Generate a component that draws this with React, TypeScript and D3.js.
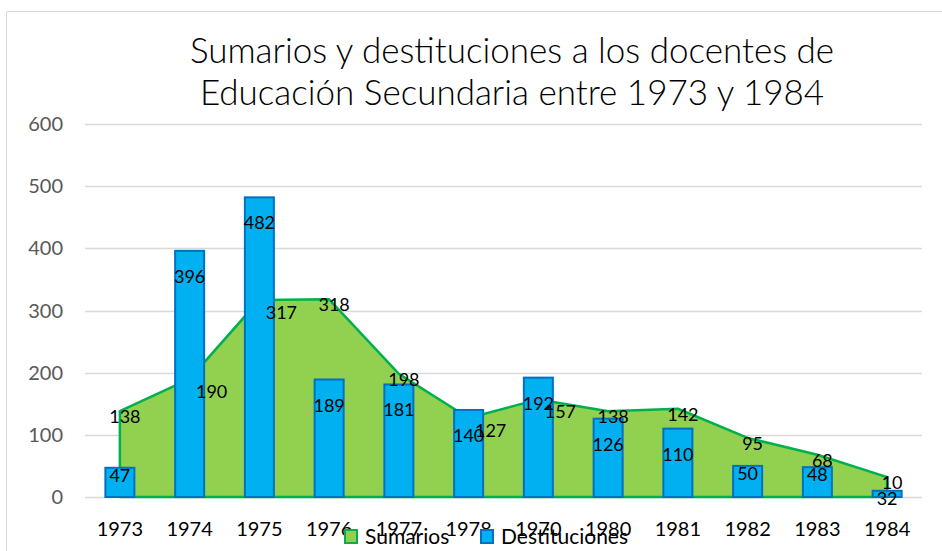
import React from 'react';
import * as d3 from 'd3';

const years = ['1973', '1974', '1975', '1976', '1977', '1978', '1970', '1980', '1981', '1982', '1983', '1984'];
const sumarios = [138, 190, 317, 318, 198, 127, 157, 138, 142, 95, 68, 32];
const destituciones = [47, 396, 482, 189, 181, 140, 192, 126, 110, 50, 48, 10];
// the labels as printed in the original (1984 labels are swapped there)
const sumariosLabels = ['138', '190', '317', '318', '198', '127', '157', '138', '142', '95', '68', '10'];
const destitucionesLabels = ['47', '396', '482', '189', '181', '140', '192', '126', '110', '50', '48', '32'];
const yTicks = [0, 100, 200, 300, 400, 500, 600];
const titleLines = ['Sumarios y destituciones a los docentes de', 'Educación Secundaria entre 1973 y 1984'];

const W = 942;
const H = 551;
const font = 'Lato, "Open Sans", sans-serif';

const plotChart = (ref: React.RefObject<SVGSVGElement | null>) => {
    const svg = d3.select(ref.current);
    svg.selectAll('*').remove();

    const x = d3.scaleBand<string>().domain(years).range([85, 922]);
    const y = d3.scaleLinear().domain([0, 600]).range([497, 124]);
    const cx = (i: number) => (x(years[i]) as number) + x.bandwidth() / 2;

    // chart frame
    svg.append('path')
        .attr('d', `M6.5,${H} V11.5 H${W}`)
        .attr('fill', 'none')
        .attr('stroke', '#d9d9d9')
        .attr('stroke-width', 1);

    // gridlines
    svg.append('g').selectAll('line')
        .data(yTicks)
        .enter().append('line')
        .attr('x1', 85).attr('x2', 922)
        .attr('y1', d => Math.round(y(d)) + 0.5)
        .attr('y2', d => Math.round(y(d)) + 0.5)
        .attr('stroke', '#d9d9d9')
        .attr('stroke-width', 1.5);

    // y tick labels
    svg.append('g').selectAll('text')
        .data(yTicks)
        .enter().append('text')
        .attr('x', 63)
        .attr('y', d => y(d) + 7)
        .attr('text-anchor', 'end')
        .attr('font-family', font)
        .attr('font-size', 20)
        .attr('fill', '#595959')
        .text(d => d);

    // Sumarios area
    const area = d3.area<number>()
        .x((d, i) => cx(i))
        .y0(y(0))
        .y1(d => y(d));

    svg.append('path')
        .datum(sumarios)
        .attr('d', area)
        .attr('fill', '#92d050')
        .attr('stroke', '#00b050')
        .attr('stroke-width', 2.5)
        .attr('stroke-linejoin', 'round');

    // Destituciones bars
    const barW = 29;
    svg.append('g').selectAll('rect')
        .data(destituciones)
        .enter().append('rect')
        .attr('x', (d, i) => cx(i) - barW / 2)
        .attr('y', d => y(d))
        .attr('width', barW)
        .attr('height', d => y(0) - y(d))
        .attr('fill', '#00b0f0')
        .attr('stroke', '#0070c0')
        .attr('stroke-width', 2);

    // bar labels (inside end)
    svg.append('g').selectAll('text')
        .data(destituciones)
        .enter().append('text')
        .attr('x', (d, i) => cx(i))
        .attr('y', d => y(d) + (y(0) - y(d) > 60 ? 26 : 8) + 6)
        .attr('text-anchor', 'middle')
        .attr('font-family', font)
        .attr('font-size', 18)
        .attr('fill', '#000')
        .text((d, i) => destitucionesLabels[i]);

    // area labels, pushed aside where a bar covers the point
    const covered = (i: number) => destituciones[i] > sumarios[i];
    svg.append('g').selectAll('text')
        .data(sumarios)
        .enter().append('text')
        .attr('x', (d, i) => cx(i) + (covered(i) ? 22 : 5))
        .attr('y', (d, i) => y(d) + (covered(i) ? 19 : 12))
        .attr('text-anchor', 'middle')
        .attr('font-family', font)
        .attr('font-size', 18)
        .attr('fill', '#000')
        .text((d, i) => sumariosLabels[i]);

    // x labels
    svg.append('g').selectAll('text')
        .data(years)
        .enter().append('text')
        .attr('x', (d, i) => cx(i))
        .attr('y', 536)
        .attr('text-anchor', 'middle')
        .attr('font-family', font)
        .attr('font-size', 20)
        .attr('fill', '#000')
        .text(d => d);

    // legend
    const legend = [
        { name: 'Sumarios', fill: '#92d050', stroke: '#00b050', x: 345 },
        { name: 'Destituciones', fill: '#00b0f0', stroke: '#0070c0', x: 481 },
    ];
    const lg = svg.append('g').selectAll('g')
        .data(legend)
        .enter().append('g')
        .attr('transform', d => `translate(${d.x},530)`);
    lg.append('rect')
        .attr('width', 12).attr('height', 13)
        .attr('fill', d => d.fill)
        .attr('stroke', d => d.stroke)
        .attr('stroke-width', 2);
    lg.append('text')
        .attr('x', 20)
        .attr('y', 14)
        .attr('font-family', font)
        .attr('font-size', 21)
        .attr('fill', '#000')
        .text(d => d.name);

    // title
    svg.append('g').selectAll('text')
        .data(titleLines)
        .enter().append('text')
        .attr('x', 512)
        .attr('y', (d, i) => 63 + i * 42)
        .attr('text-anchor', 'middle')
        .attr('font-family', font)
        .attr('font-weight', 300)
        .attr('font-size', 35)
        .attr('fill', '#000')
        .text(d => d);
};

function App() {
    const ref = React.useRef<SVGSVGElement>(null);

    React.useEffect(() => {
        plotChart(ref);
    }, []);

    return (
        <svg
            ref={ref}
            width={W}
            height={H}
            style={{ position: 'absolute', left: 0, top: 0, background: '#fff' }}
        />
    );
}

export default App;
